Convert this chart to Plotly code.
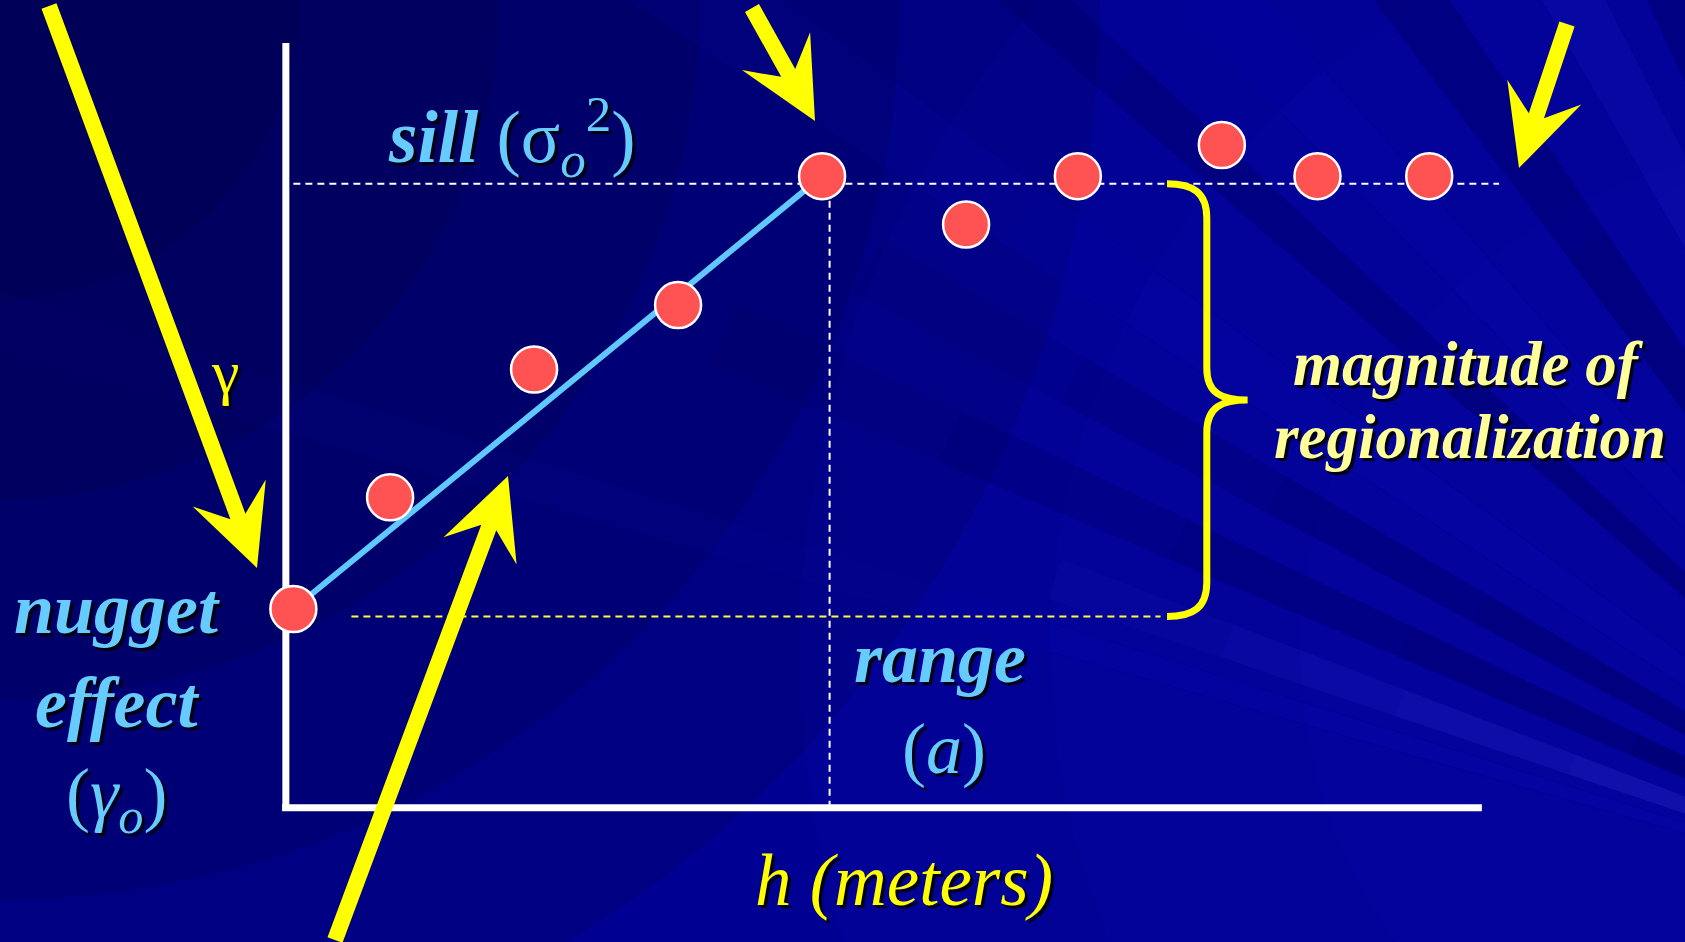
import math
import plotly.graph_objects as go

# Experimental variogram points (lag distance h, semivariance gamma), chart units
lag_h = [0.07, 0.97, 2.31, 3.65, 4.99, 6.33, 7.37, 8.71, 9.60, 10.64]
gamma = [1.85, 2.89, 4.08, 4.68, 5.88, 5.43, 5.88, 6.17, 5.88, 5.88]

# Model parameters
nugget = 1.78
sill = 5.81
range_a = 5.06
sill_line_end = 11.29
nugget_line_start = 0.61
nugget_line_end = 8.14
h_axis_end = 11.13
gamma_axis_end = 7.12

W, H = 1685, 942
X_RANGE = [-2.66, 13.02]
Y_RANGE = [-1.25, 7.52]


def to_data(px, py):
    # slide pixel -> data coordinates
    x = X_RANGE[0] + px / W * (X_RANGE[1] - X_RANGE[0])
    y = Y_RANGE[1] - py / H * (Y_RANGE[1] - Y_RANGE[0])
    return x, y


def to_paper(px, py):
    return px / W, 1 - py / H


def path_str(points, close=True):
    s = "M " + " L ".join(f"{x:.4f},{y:.4f}" for x, y in points)
    return s + (" Z" if close else "")


fig = go.Figure()

# model line (nugget -> sill at range)
fig.add_trace(go.Scatter(
    x=[lag_h[0], lag_h[4]],
    y=[gamma[0], gamma[4]],
    mode='lines',
    line=dict(color='#5fc8ff', width=6),
    hoverinfo='skip'
))

# experimental points
fig.add_trace(go.Scatter(
    x=lag_h,
    y=gamma,
    mode='markers',
    marker=dict(size=46, color='#ff5252', line=dict(color='white', width=2.5)),
    hoverinfo='skip'
))

shapes = []

# --- background: dark top-left, brighter right, faint rays ---
for r in [1100, 900, 700, 500, 300]:
    x0, y0 = to_paper(-r, -r)
    x1, y1 = to_paper(r, r)
    shapes.append(dict(type='circle', xref='paper', yref='paper', x0=x0, y0=y1, x1=x1, y1=y0,
                       fillcolor='rgba(0,0,40,0.14)', line=dict(width=0), layer='below'))
for r in [1000, 750, 500]:
    x0, y0 = to_paper(1800 - r, 650 - r)
    x1, y1 = to_paper(1800 + r, 650 + r)
    shapes.append(dict(type='circle', xref='paper', yref='paper', x0=x0, y0=y1, x1=x1, y1=y0,
                       fillcolor='rgba(20,20,190,0.10)', line=dict(width=0), layer='below'))

focus = (2090, 950)
# (angle from, angle to, length in px, rgb, alpha); rays fade out towards their far end
rays = [
    (198.6, 200.8, 1100, '70,70,230', 0.24),
    (203.0, 205.5, 1500, '0,0,70', 0.32),
    (208.0, 210.5, 1400, '0,0,70', 0.32),
    (196.0, 197.5, 2400, '30,30,190', 0.12),
    (213, 216, 2600, '30,30,190', 0.14),
    (221, 223, 2600, '0,0,60', 0.20),
    (226, 229, 2600, '30,30,190', 0.14),
    (233, 236, 2600, '0,0,60', 0.24),
    (240, 243, 2600, '40,40,200', 0.16),
    (245, 247, 2600, '0,0,60', 0.24),
]
steps = 6
for a0, a1, length, rgb, alpha in rays:
    for k in range(1, steps + 1):
        seg = length * k / steps
        pts = [focus]
        for a in (a0, a1):
            t = math.radians(a)
            pts.append((focus[0] + seg * math.cos(t), focus[1] + seg * math.sin(t)))
        pp = [to_paper(*p) for p in pts]
        shapes.append(dict(type='path', xref='paper', yref='paper', path=path_str(pp),
                           fillcolor=f'rgba({rgb},{alpha / steps * 1.6:.3f})',
                           line=dict(width=0), layer='below'))

# --- axes ---
shapes.append(dict(type='line', x0=0, y0=0, x1=0, y1=gamma_axis_end,
                   line=dict(color='white', width=7), layer='between'))
shapes.append(dict(type='line', x0=-0.035, y0=0, x1=h_axis_end, y1=0,
                   line=dict(color='white', width=7), layer='between'))

# --- dashed guides ---
dash = '7px,5px'
shapes.append(dict(type='line', x0=lag_h[0], y0=sill, x1=sill_line_end, y1=sill,
                   line=dict(color='white', width=2, dash=dash), layer='between'))
shapes.append(dict(type='line', x0=range_a, y0=0, x1=range_a, y1=sill,
                   line=dict(color='white', width=2, dash=dash), layer='between'))
shapes.append(dict(type='line', x0=nugget_line_start, y0=nugget, x1=nugget_line_end, y1=nugget,
                   line=dict(color='#ffff33', width=2, dash=dash), layer='between'))

# --- curly brace spanning nugget -> sill ---
bx0, bx1, btip = nugget_line_end + 0.06, nugget_line_end + 0.43, nugget_line_end + 0.81
mid = (sill + nugget) / 2
brace = (
    f"M {bx0},{sill} C {bx0 + 0.24},{sill} {bx1},{sill - 0.08} {bx1},{sill - 0.32} "
    f"L {bx1},{mid + 0.30} C {bx1},{mid + 0.06} {bx1 + 0.14},{mid} {btip},{mid} "
    f"C {bx1 + 0.14},{mid} {bx1},{mid - 0.06} {bx1},{mid - 0.30} "
    f"L {bx1},{nugget + 0.32} C {bx1},{nugget + 0.08} {bx0 + 0.24},{nugget} {bx0},{nugget}"
)
shapes.append(dict(type='path', path=brace, line=dict(color='#ffff00', width=7), layer='between'))


# --- big yellow arrows ---
def arrow(tail, tip, shaft=8, neck=55, head_len=80, head_half=39):
    dx, dy = tip[0] - tail[0], tip[1] - tail[1]
    n = math.hypot(dx, dy)
    ux, uy = dx / n, dy / n
    nx, ny = -uy, ux

    def p(back, side):
        return (tip[0] - ux * back + nx * side, tip[1] - uy * back + ny * side)

    pts = [
        (tail[0] + nx * shaft, tail[1] + ny * shaft),
        p(neck, shaft), p(head_len, head_half), tip,
        p(head_len, -head_half), p(neck, -shaft),
        (tail[0] - nx * shaft, tail[1] - ny * shaft),
    ]
    return path_str([to_data(*q) for q in pts])


arrows_px = [
    ((49, 6), (257, 568)),
    ((335, 940), (508, 476)),
    ((752, 8), (815, 121)),
    ((1567, 24), (1519, 168)),
]
for tail, tip in arrows_px:
    shapes.append(dict(type='path', path=arrow(tail, tip), fillcolor='#ffff00',
                       line=dict(width=0), layer='above'))

# --- text labels ---
shadow = '3px 3px 1px #000010'
light_blue = '#66ccff'


def label(text, cx, baseline, size, color):
    x, y = to_data(cx, baseline - 0.3375 * size)
    return dict(x=x, y=y, text=text, showarrow=False, xanchor='center', yanchor='middle',
                font=dict(family='Liberation Serif', size=size, color=color, shadow=shadow))


annotations = [
    label('<b><i>sill</i></b> (σ<sub><i>o</i></sub><sup>2</sup>)', 512, 161, 73, light_blue),
    label('<b><i>nugget</i></b>', 117, 633, 72, light_blue),
    label('<b><i>effect</i></b>', 117, 727, 72, light_blue),
    label('(<i>γ<sub>o</sub></i>)', 117, 823, 72, light_blue),
    label('<b><i>range</i></b>', 940, 682, 72, light_blue),
    label('(<i>a</i>)', 944, 773, 72, light_blue),
    label('<b><i>magnitude of</i></b>', 1468, 385, 63, '#ffff99'),
    label('<b><i>regionalization</i></b>', 1470, 458, 63, '#ffff99'),
    label('<i>h (meters)</i>', 904, 905, 73, '#ffff00'),
    label('γ', 225, 393, 62, '#ffff00'),
]

fig.update_layout(
    width=W,
    height=H,
    margin=dict(l=0, r=0, t=0, b=0),
    paper_bgcolor='#000092',
    plot_bgcolor='rgba(0,0,0,0)',
    showlegend=False,
    xaxis=dict(range=X_RANGE, visible=False, fixedrange=True),
    yaxis=dict(range=Y_RANGE, visible=False, fixedrange=True),
    shapes=shapes,
    annotations=annotations,
)

# the page body has a default 8px margin; drop it so the slide fills the window
fig.write_html("out.html", config={'displayModeBar': False},
               post_script="document.body.style.margin = '0';")
